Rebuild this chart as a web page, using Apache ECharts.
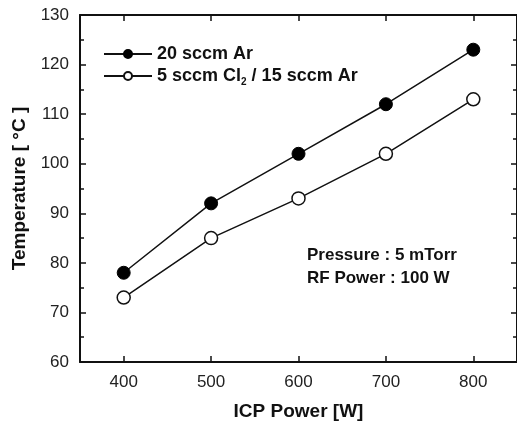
<!DOCTYPE html>
<html><head><meta charset="utf-8">
<script src="https://cdn.jsdelivr.net/npm/echarts@6/dist/echarts.min.js"></script>
<style>html,body{margin:0;padding:0;background:#fff}#c{width:517px;height:425px}</style>
</head><body><div id="c"></div>
<script>
const icpPower = [400, 500, 600, 700, 800];
const arOnly = [78, 92, 102, 112, 123];
const cl2Ar = [73, 85, 93, 102, 113];
const seriesNames = ['20 sccm Ar', '5 sccm Cl2 / 15 sccm Ar'];
const xTicks = [400, 500, 600, 700, 800];
const yTicks = [60, 70, 80, 90, 100, 110, 120, 130];

const font = '"Liberation Sans", Arial, sans-serif';
const chart = echarts.init(document.getElementById('c'));
const axisCommon = {
  axisLine: {lineStyle: {color: '#111', width: 2}},
  axisTick: {inside: true, length: 6, lineStyle: {color: '#111', width: 1.5}},
  minorTick: {show: true, splitNumber: 2, length: 4, lineStyle: {color: '#111', width: 1.5}},
  splitLine: {show: false}
};
chart.setOption({
  animation: false,
  grid: {left: 80, right: 0, top: 15, bottom: 63, containLabel: false, outerBoundsMode: 'none'},
  legend: {
    left: 98, top: 40, orient: 'vertical', itemGap: 4, itemWidth: 48, itemHeight: 10,
    data: seriesNames,
    formatter: n => n === seriesNames[1] ? '5 sccm Cl{sub|2} / 15 sccm Ar' : n,
    textStyle: {fontFamily: font, fontWeight: 'bold', fontSize: 18, color: '#111',
      rich: {sub: {fontFamily: font, fontWeight: 'bold', fontSize: 10, color: '#111', padding: [12, 0, 0, 0]}}}
  },
  xAxis: [
    Object.assign({type: 'value', min: 350, max: 850, interval: 100, position: 'bottom',
      name: 'ICP Power [W]', nameLocation: 'middle', nameGap: 40,
      nameTextStyle: {fontFamily: font, fontWeight: 'bold', fontSize: 19, color: '#111'},
      axisLabel: {fontFamily: font, fontSize: 17, color: '#222', margin: 12,
        customValues: xTicks},
      axisTick: {inside: true, length: 6, lineStyle: {color: '#111', width: 1.5}, customValues: xTicks}
    }, {axisLine: axisCommon.axisLine, minorTick: axisCommon.minorTick, splitLine: axisCommon.splitLine}),
    Object.assign({type: 'value', min: 350, max: 850, interval: 100, position: 'top',
      axisLabel: {show: false},
      axisTick: {inside: true, length: 6, lineStyle: {color: '#111', width: 1.5}, customValues: xTicks}
    }, {axisLine: axisCommon.axisLine, minorTick: axisCommon.minorTick, splitLine: axisCommon.splitLine})
  ],
  yAxis: [
    Object.assign({type: 'value', min: 60, max: 130, interval: 10, position: 'left',
      name: 'Temperature [ °C ]', nameLocation: 'middle', nameGap: 50, nameRotate: 90,
      nameTextStyle: {fontFamily: font, fontWeight: 'bold', fontSize: 19, color: '#111'},
      axisLabel: {fontFamily: font, fontSize: 17, color: '#222', margin: 11}
    }, axisCommon),
    Object.assign({type: 'value', min: 60, max: 130, interval: 10, position: 'right',
      axisLabel: {show: false}
    }, axisCommon)
  ],
  series: [
    {name: seriesNames[0], type: 'line', data: icpPower.map((x, i) => [x, arOnly[i]]),
      symbol: 'circle', symbolSize: 13, lineStyle: {color: '#111', width: 1.5},
      itemStyle: {color: '#000', borderColor: '#000', borderWidth: 1}},
    {name: seriesNames[1], type: 'line', data: icpPower.map((x, i) => [x, cl2Ar[i]]),
      symbol: 'circle', symbolSize: 13, lineStyle: {color: '#111', width: 1.5},
      itemStyle: {color: '#fff', borderColor: '#111', borderWidth: 1.5}}
  ],
  graphic: [
    {type: 'text', left: 307, top: 244, style: {text: 'Pressure : 5 mTorr\nRF Power : 100 W',
      font: 'bold 17px "Liberation Sans", Arial, sans-serif', fill: '#111', lineHeight: 23}}
  ]
});
</script></body></html>
